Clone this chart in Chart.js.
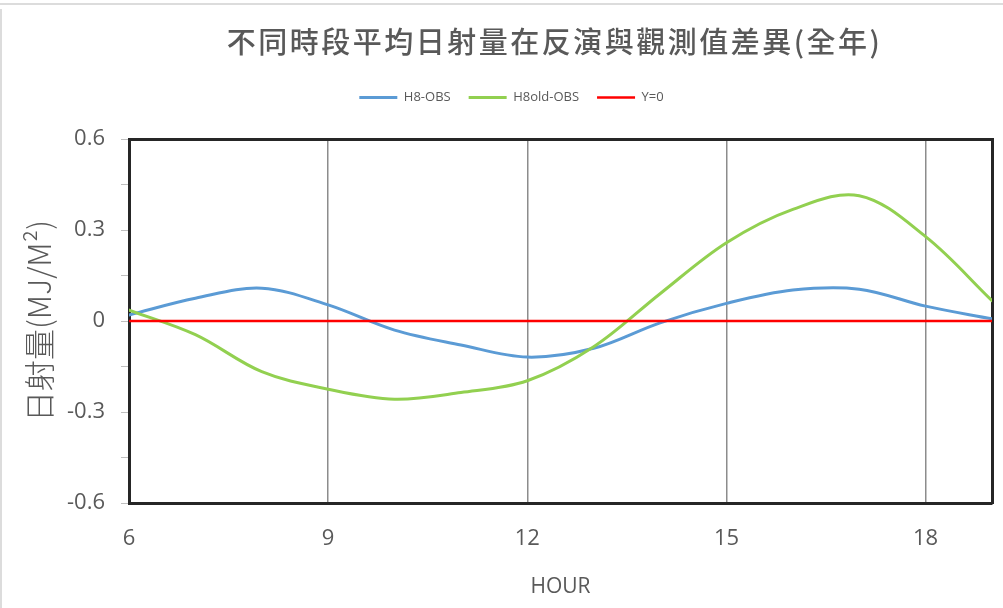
<!DOCTYPE html>
<html>
<head>
<meta charset="utf-8">
<script src="https://cdn.jsdelivr.net/npm/chart.js@4.4.0/dist/chart.umd.min.js"></script>
<style>
  html, body { margin: 0; padding: 0; background: #fff; }
  #wrap { position: relative; width: 1003px; height: 608px; overflow: hidden; }
  #frameTop { position: absolute; left: 0; top: 3px; width: 1003px; height: 2px; background: #dcdcdc; }
  #frameLeft { position: absolute; left: 0; top: 9px; width: 2px; height: 599px; background: #dcdcdc; }
  canvas { position: absolute; left: 0; top: 0; }
</style>
</head>
<body>
<div id="wrap">
  <div id="frameTop"></div>
  <div id="frameLeft"></div>
  <canvas id="chart" width="1003" height="608"></canvas>
</div>
<script>
// Hour of day and mean radiation difference per hour (MJ/M²)
const hours     = [6, 7, 8, 9, 10, 11, 12, 13, 14, 15, 16, 17, 18, 19];
const h8Obs     = [0.020, 0.075, 0.108, 0.053, -0.030, -0.079, -0.119, -0.090, -0.006, 0.058, 0.102, 0.105, 0.049, 0.007];
const h8oldObs  = [0.036, -0.045, -0.167, -0.225, -0.258, -0.236, -0.197, -0.085, 0.090, 0.258, 0.368, 0.413, 0.278, 0.067];
const zeroLine  = [0, 0, 0, 0, 0, 0, 0, 0, 0, 0, 0, 0, 0, 0];

const seriesNames = ['H8-OBS', 'H8old-OBS', 'Y=0'];

const xTickValues = [6, 9, 12, 15, 18];
const xTickLabels = ['6', '9', '12', '15', '18'];
const yTickValues = [-0.6, -0.45, -0.3, -0.15, 0, 0.15, 0.3, 0.45, 0.6];
const yTickLabels = ['-0.6', '', '-0.3', '', '0', '', '0.3', '', '0.6'];

const chartTitle = '不同時段平均日射量在反演與觀測值差異(全年)';
const yTitle = '日射量(MJ/M²)';
const xTitle = 'HOUR';

const textGray = '#595959';
const frameColor = '#262626';

const toPoints = (vals) => hours.map((h, i) => ({ x: h, y: vals[i] }));

// Heading drawn with letter spacing, centred over the plot
const headingPlugin = {
  id: 'heading',
  afterDraw(chart) {
    const { ctx, chartArea } = chart;
    ctx.save();
    ctx.font = '500 29px "Noto Sans CJK TC"';
    ctx.fillStyle = textGray;
    if ('letterSpacing' in ctx) ctx.letterSpacing = '2.5px';
    ctx.textAlign = 'center';
    ctx.textBaseline = 'middle';
    ctx.fillText(chartTitle, (chartArea.left + chartArea.right) / 2 - 6, 42);
    ctx.restore();
  }
};

new Chart(document.getElementById('chart'), {
  type: 'line',
  data: {
    datasets: [
      { label: seriesNames[0], data: toPoints(h8Obs), borderColor: '#5b9bd5', backgroundColor: '#5b9bd5', borderWidth: 3, order: 3 },
      { label: seriesNames[1], data: toPoints(h8oldObs), borderColor: '#92d050', backgroundColor: '#92d050', borderWidth: 3, order: 2 },
      { label: seriesNames[2], data: toPoints(zeroLine), borderColor: '#ff0000', backgroundColor: '#ff0000', borderWidth: 2.5, order: 1, tension: 0 }
    ]
  },
  options: {
    responsive: false,
    animation: false,
    devicePixelRatio: 1,
    elements: {
      point: { radius: 0, hoverRadius: 0 },
      line: { tension: 0.35, borderCapStyle: 'round' }
    },
    layout: { padding: { top: 73, left: 20, right: 0, bottom: 0 } },
    plugins: {
      tooltip: { enabled: false },
      title: { display: false },
      legend: {
        display: true,
        position: 'top',
        labels: {
          usePointStyle: true,
          pointStyle: 'line',
          pointStyleWidth: 38,
          padding: 18,
          color: textGray,
          font: { family: '"Open Sans"', size: 13 },
          sort: (a, b) => a.datasetIndex - b.datasetIndex
        }
      }
    },
    scales: {
      x: {
        type: 'linear',
        position: 'bottom',
        min: 6,
        max: 19,
        afterBuildTicks: (s) => { s.ticks = xTickValues.map(v => ({ value: v })); },
        afterFit: (s) => { s.height = 105; },
        ticks: {
          padding: 23,
          color: textGray,
          font: { family: '"Open Sans"', size: 22 },
          callback: (v, i) => xTickLabels[i]
        },
        grid: { display: true, drawTicks: false, color: '#8c8c8c', lineWidth: 1.5 },
        border: { display: true, color: frameColor, width: 3 },
        title: {
          display: true,
          text: xTitle,
          color: textGray,
          font: { family: '"Open Sans"', size: 21 },
          padding: { top: 0, bottom: 8 }
        }
      },
      xTop: {
        type: 'linear',
        position: 'top',
        display: true,
        afterFit: (s) => { s.height = 25; },
        ticks: { display: false },
        grid: { display: false },
        border: { display: true, color: frameColor, width: 3 }
      },
      y: {
        type: 'linear',
        position: 'left',
        min: -0.6,
        max: 0.6,
        afterBuildTicks: (s) => { s.ticks = yTickValues.map(v => ({ value: v })); },
        afterFit: (s) => { s.width = 109; },
        ticks: {
          padding: 16,
          color: textGray,
          font: { family: '"Open Sans"', size: 22 },
          callback: (v, i) => yTickLabels[i]
        },
        grid: { drawOnChartArea: false, drawTicks: true, tickLength: 8, color: '#bfbfbf', lineWidth: 1 },
        border: { display: true, color: frameColor, width: 3 },
        title: {
          display: true,
          text: yTitle,
          color: textGray,
          font: { family: '"Noto Sans CJK TC"', size: 31, weight: '300' },
          padding: { top: 1, bottom: 0 }
        }
      },
      yRight: {
        type: 'linear',
        position: 'right',
        display: true,
        afterFit: (s) => { s.width = 11; },
        ticks: { display: false },
        grid: { display: false },
        border: { display: true, color: frameColor, width: 3 }
      }
    }
  },
  plugins: [headingPlugin]
});
</script>
</body>
</html>
